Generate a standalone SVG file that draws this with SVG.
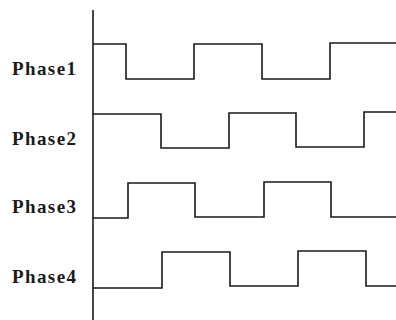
<svg xmlns="http://www.w3.org/2000/svg" width="396" height="320" viewBox="0 0 396 320">
<style>
.lbl{font-family:"Liberation Serif","Times New Roman",serif;font-weight:bold;font-size:19px;fill:#1a1a1a}
.w{fill:none;stroke:#1a1a1a;stroke-width:1.6}
</style>
<rect width="396" height="320" fill="#ffffff"/>
<g id="axis"><line class="w" x1="93" y1="10" x2="93" y2="320"/></g>
<g id="phase1"><text class="lbl" x="12" y="75" textLength="64" lengthAdjust="spacing">Phase1</text></g>
<g id="phase2"><text class="lbl" x="12" y="145" textLength="64" lengthAdjust="spacing">Phase2</text></g>
<g id="phase3"><text class="lbl" x="12" y="213" textLength="64" lengthAdjust="spacing">Phase3</text></g>
<g id="phase4"><text class="lbl" x="12" y="283" textLength="64" lengthAdjust="spacing">Phase4</text></g>
<g id="connectors">
<polyline class="w" points="93,44 126,44 126,79 194,79 194,44 262,44 262,79 330,79 330,43 396,43"/>
<polyline class="w" points="93,114 161,114 161,148 229,148 229,113 296,113 296,147 364,147 364,112 396,112"/>
<polyline class="w" points="93,218 128,218 128,183 195,183 195,217 264,217 264,182 331,182 331,217 396,217"/>
<polyline class="w" points="93,288 162,288 162,252 230,252 230,286 298,286 298,251 366,251 366,286 396,286"/>
</g>
</svg>
